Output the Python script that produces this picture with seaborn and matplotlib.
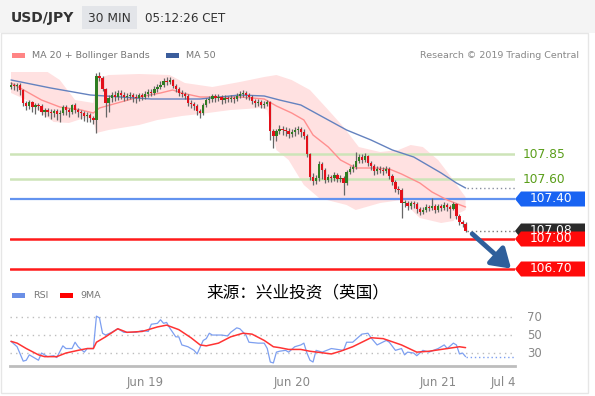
import numpy as np
import pandas as pd
import matplotlib
matplotlib.use("Agg")
import matplotlib.pyplot as plt
import matplotlib.transforms as mtransforms
from matplotlib.patches import Rectangle, Polygon
import seaborn as sns

# ---- data (30 min candles, USD/JPY) ----
first_open = 108.52
closes = [
    108.54, 108.53, 108.54, 108.49, 108.36, 108.33, 108.37, 108.32, 108.34, 108.33,
    108.27, 108.29, 108.27, 108.26, 108.28, 108.25, 108.26, 108.32, 108.29, 108.27,
    108.34, 108.29, 108.27, 108.26, 108.23, 108.24, 108.21, 108.19, 108.63, 108.61,
    108.50, 108.36, 108.41, 108.44, 108.42, 108.46, 108.44, 108.42, 108.43, 108.44,
    108.42, 108.41, 108.44, 108.42, 108.45, 108.47, 108.46, 108.50, 108.52, 108.54,
    108.58, 108.57, 108.59, 108.53, 108.50, 108.46, 108.45, 108.43, 108.36, 108.35,
    108.33, 108.28, 108.26, 108.34, 108.39, 108.40, 108.43, 108.41, 108.42, 108.39,
    108.41, 108.40, 108.41, 108.40, 108.43, 108.45, 108.46, 108.44, 108.42, 108.38,
    108.36, 108.37, 108.34, 108.35, 108.37, 108.08, 108.03, 108.08, 108.10, 108.09,
    108.08, 108.05, 108.07, 108.09, 108.10, 108.07, 108.03, 107.85, 107.62, 107.58,
    107.61, 107.75, 107.69, 107.59, 107.62, 107.61, 107.64, 107.60, 107.61, 107.56,
    107.67, 107.70, 107.72, 107.78, 107.82, 107.79, 107.83, 107.76, 107.73, 107.68,
    107.70, 107.69, 107.68, 107.70, 107.63, 107.57, 107.50, 107.49, 107.36, 107.36,
    107.33, 107.36, 107.35, 107.30, 107.27, 107.29, 107.32, 107.31, 107.33, 107.29,
    107.33, 107.31, 107.34, 107.32, 107.30, 107.35, 107.23, 107.17, 107.15, 107.08,
]
highs = [
    108.57, 108.56, 108.56, 108.56, 108.50, 108.38, 108.39, 108.38, 108.36, 108.36,
    108.35, 108.31, 108.31, 108.30, 108.30, 108.30, 108.29, 108.34, 108.34, 108.31,
    108.35, 108.36, 108.31, 108.29, 108.28, 108.27, 108.26, 108.23, 108.66, 108.67,
    108.63, 108.51, 108.44, 108.47, 108.48, 108.49, 108.49, 108.47, 108.46, 108.47,
    108.46, 108.45, 108.46, 108.46, 108.48, 108.50, 108.50, 108.53, 108.55, 108.58,
    108.61, 108.62, 108.62, 108.60, 108.55, 108.52, 108.49, 108.47, 108.45, 108.39,
    108.37, 108.35, 108.30, 108.36, 108.41, 108.43, 108.45, 108.45, 108.45, 108.44,
    108.44, 108.43, 108.44, 108.43, 108.46, 108.48, 108.49, 108.48, 108.46, 108.44,
    108.40, 108.40, 108.39, 108.38, 108.39, 108.38, 108.10, 108.10, 108.14, 108.13,
    108.12, 108.11, 108.10, 108.12, 108.13, 108.12, 108.10, 108.05, 107.86, 107.66,
    107.64, 107.78, 107.77, 107.71, 107.65, 107.64, 107.67, 107.66, 107.64, 107.63,
    107.69, 107.73, 107.75, 107.87, 107.85, 107.85, 107.86, 107.84, 107.78, 107.75,
    107.73, 107.73, 107.72, 107.73, 107.72, 107.65, 107.59, 107.53, 107.51, 107.39,
    107.38, 107.38, 107.38, 107.37, 107.32, 107.32, 107.35, 107.34, 107.41, 107.35,
    107.35, 107.35, 107.37, 107.36, 107.34, 107.37, 107.36, 107.25, 107.19, 107.17,
]
lows = [
    108.50, 108.49, 108.48, 108.44, 108.33, 108.29, 108.30, 108.27, 108.25, 108.29,
    108.24, 108.22, 108.23, 108.20, 108.22, 108.19, 108.17, 108.24, 108.24, 108.22,
    108.25, 108.26, 108.22, 108.20, 108.18, 108.17, 108.17, 108.15, 108.06, 108.58,
    108.48, 108.22, 108.27, 108.37, 108.38, 108.39, 108.40, 108.38, 108.39, 108.40,
    108.37, 108.36, 108.38, 108.39, 108.40, 108.42, 108.43, 108.44, 108.47, 108.50,
    108.52, 108.54, 108.55, 108.51, 108.47, 108.43, 108.42, 108.40, 108.33, 108.31,
    108.29, 108.24, 108.21, 108.24, 108.32, 108.36, 108.37, 108.37, 108.38, 108.35,
    108.36, 108.37, 108.37, 108.36, 108.38, 108.41, 108.42, 108.40, 108.39, 108.35,
    108.32, 108.33, 108.31, 108.31, 108.33, 107.99, 107.91, 107.98, 108.05, 108.04,
    108.03, 108.01, 108.02, 108.03, 108.05, 108.02, 108.00, 107.82, 107.59, 107.54,
    107.55, 107.58, 107.60, 107.56, 107.57, 107.57, 107.58, 107.57, 107.57, 107.44,
    107.54, 107.65, 107.67, 107.70, 107.76, 107.76, 107.77, 107.73, 107.69, 107.64,
    107.65, 107.66, 107.64, 107.66, 107.60, 107.54, 107.47, 107.45, 107.21, 107.32,
    107.29, 107.30, 107.31, 107.26, 107.24, 107.25, 107.27, 107.28, 107.29, 107.26,
    107.27, 107.28, 107.29, 107.28, 107.21, 107.29, 107.20, 107.14, 107.12, 107.07,
]

# indicators, sampled along the candle index
ma20_idx = [0, 3, 10, 16, 23, 27, 29, 36, 42, 49, 53, 56, 62, 69, 75, 83, 87, 92, 96,
            99, 104, 108, 113, 119, 124, 128, 134, 138, 143, 149]
ma20 = [108.56, 108.51, 108.39, 108.32, 108.29, 108.26, 108.31, 108.37, 108.42, 108.46,
        108.49, 108.46, 108.42, 108.42, 108.42, 108.40, 108.33, 108.26, 108.19, 108.04,
        107.92, 107.79, 107.71, 107.71, 107.70, 107.65, 107.56, 107.47, 107.39, 107.32]

bb_up_idx = [0, 12, 16, 21, 27, 28, 32, 42, 52, 57, 66, 75, 83, 87, 92, 98, 104, 109,
             114, 121, 127, 131, 135, 140, 145, 148, 149]
bb_up = [108.67, 108.67, 108.59, 108.39, 108.36, 108.60, 108.64, 108.65, 108.64, 108.56,
         108.52, 108.57, 108.62, 108.64, 108.59, 108.49, 108.29, 108.12, 107.92, 107.87,
         107.89, 107.94, 107.92, 107.79, 107.59, 107.46, 107.42]
bb_lo_idx = [0, 5, 10, 14, 19, 25, 27, 28, 32, 42, 48, 56, 62, 72, 82, 84, 87, 91, 96,
             101, 110, 113, 121, 128, 134, 141, 145, 147, 149]
bb_lo = [108.46, 108.39, 108.26, 108.17, 108.16, 108.22, 108.18, 108.06, 108.09, 108.14,
         108.19, 108.23, 108.25, 108.29, 108.31, 108.29, 107.89, 107.79, 107.54, 107.41,
         107.34, 107.29, 107.36, 107.39, 107.21, 107.16, 107.18, 107.26, 107.29]

ma50_idx = [0, 13, 26, 46, 62, 75, 83, 88, 95, 104, 110, 118, 125, 132, 141, 146, 149]
ma50 = [108.59, 108.51, 108.44, 108.40, 108.40, 108.44, 108.43, 108.39, 108.34, 108.19,
        108.09, 107.99, 107.89, 107.82, 107.66, 107.56, 107.51]

rsi_idx = [0, 2, 4, 5, 6, 7, 9, 10, 12, 14, 15, 17, 18, 20, 21, 22, 24, 25, 27, 28, 29,
           30, 31, 33, 35, 37, 39, 41, 43, 45, 46, 48, 49, 50, 51, 52, 54, 55, 56, 58,
           60, 61, 63, 64, 65, 66, 69, 71, 72, 74, 75, 77, 78, 81, 83, 84, 85, 86, 87,
           88, 90, 91, 93, 95, 96, 97, 98, 99, 100, 102, 105, 107, 109, 110, 112, 114,
           115, 117, 118, 120, 123, 124, 126, 128, 129, 130, 132, 133, 135, 137, 140,
           142, 143, 145, 146, 147, 148, 149]
rsi = [43, 37, 21, 22, 28, 26, 22, 30, 26, 27, 25, 38, 35, 35, 42, 37, 31, 35, 35, 71, 69,
       52, 50, 53, 57, 53, 53, 53, 55, 54, 62, 63, 67, 63, 64, 58, 48, 48, 39, 37,
       33, 29, 44, 46, 52, 50, 50, 49, 53, 58, 57, 50, 42, 41, 41, 35, 20, 19, 31,
       32, 33, 31, 37, 39, 41, 30, 22, 20, 33, 31, 35, 34, 33, 42, 42, 48,
       51, 52, 47, 39, 44, 42, 33, 35, 28, 31, 30, 27, 33, 31, 35,
       39, 35, 41, 39, 29, 30, 26]

ma9_idx = [0, 2, 5, 9, 11, 15, 18, 22, 25, 27, 28, 31, 35, 38, 43, 48, 51, 55, 59, 62, 64,
           68, 72, 76, 79, 83, 86, 88, 91, 95, 98, 105, 108, 112, 118, 122, 128, 133, 137,
           143, 147, 149]
ma9 = [43, 41, 35, 28, 26, 26, 30, 33, 35, 35, 42, 48, 57, 53, 54, 59, 61, 56, 47, 39, 38,
       41, 48, 52, 51, 44, 37, 36, 34, 34, 32, 29, 32, 37, 47, 46, 39, 31, 32,
       35, 37, 36]

levels_green = [107.85, 107.60]
level_blue = 107.40
levels_red = [107.00, 106.70]
last_price = 107.08

tick_pos = [43.9, 92.1, 140.0, 161.5]
tick_labels = ["Jun 19", "Jun 20", "Jun 21", "Jul 4"]
rsi_levels = [70, 50, 30]

# ---- figure ----
sns.set_style("white")
plt.rcParams['font.family'] = ['DejaVu Sans', 'Noto Sans CJK SC']

W, H = 595, 396
fig = plt.figure(figsize=(W / 100, H / 100), dpi=100)
fig.patch.set_facecolor("white")

def fx(px):
    return px / W

def fy(py):
    return 1 - py / H

XMIN, XMAX = -0.33, 165.2

n = len(closes)
opens = [first_open] + closes[:-1]
df = pd.DataFrame({"i": np.arange(n), "open": opens, "close": closes,
                   "high": highs, "low": lows})
df["up"] = df["close"] >= df["open"]

# header band
fig.patches.append(Rectangle((0, fy(33)), 1, 33 / H, transform=fig.transFigure,
                             facecolor="#f4f4f4", edgecolor="none", zorder=0))
fig.patches.append(Rectangle((fx(82), fy(29)), 55 / W, 23 / H, transform=fig.transFigure,
                             facecolor="#e3e5e9", edgecolor="none", zorder=1))
fig.patches.append(Rectangle((fx(1), fy(393)), 587 / W, 360 / H, transform=fig.transFigure,
                             facecolor="none", edgecolor="#e6e6e6", lw=1, zorder=0))
fig.text(fx(11), fy(18), "USD/JPY", fontsize=10, fontweight="bold", color="#333333", va="center")
fig.text(fx(109.5), fy(18), "30 MIN", fontsize=8.8, color="#333333", va="center", ha="center")
fig.text(fx(145), fy(18), "05:12:26 CET", fontsize=8.6, color="#333333", va="center")

# legend row
fig.patches.append(Rectangle((fx(12), fy(58)), 13 / W, 5 / H, transform=fig.transFigure,
                             facecolor="#ff8585", edgecolor="none"))
fig.text(fx(32), fy(56), "MA 20 + Bollinger Bands", fontsize=6.8, color="#777777", va="center")
fig.patches.append(Rectangle((fx(166), fy(58)), 13 / W, 5 / H, transform=fig.transFigure,
                             facecolor="#3b5d9c", edgecolor="none"))
fig.text(fx(186), fy(56), "MA 50", fontsize=6.8, color="#777777", va="center")
fig.text(fx(579), fy(56), "Research \u00a9 2019 Trading Central", fontsize=6.8,
         color="#888888", va="center", ha="right")

# ---- price panel ----
ax = fig.add_axes([fx(10), fy(278), 505 / W, 208 / H])
ax.set_xlim(XMIN, XMAX)
ax.set_ylim(106.61, 108.69)
ax.axis("off")

ax.fill(np.r_[bb_up_idx, bb_lo_idx[::-1]], np.r_[bb_up, bb_lo[::-1]],
        color="#ffdcdc", alpha=0.85, lw=0, zorder=1)

for v in levels_green:
    ax.axhline(v, color="#cde4b8", lw=1.8, zorder=2)
ax.axhline(level_blue, color="#6393ef", lw=1.6, zorder=2)
for v in levels_red:
    ax.axhline(v, color="#ff1a1a", lw=1.8, zorder=2)

sns.lineplot(x=ma20_idx, y=ma20, ax=ax, color="#ff8f8f", lw=1.0, zorder=3)
sns.lineplot(x=ma50_idx, y=ma50, ax=ax, color="#6482bf", lw=1.0, zorder=3)

# candles
ax.vlines(df["i"], df["low"], df["high"], color="#666666", lw=0.9, zorder=4)
body_lo = df[["open", "close"]].min(axis=1)
body_h = (df["close"] - df["open"]).abs().clip(lower=0.012)
colors = np.where(df["up"], "#2f7d22", "#e3101a")
ax.bar(df["i"], body_h, bottom=body_lo, width=0.75, color=colors, lw=0, zorder=5)

# dotted extensions to the right edge
ax.hlines(ma50[-1], ma50_idx[-1] + 0.5, XMAX, colors="#8a8fa0", linestyles=(0, (1, 2)), lw=1, zorder=3)
ax.hlines(last_price, n - 0.5, XMAX, colors="#777777", linestyles=(0, (1, 2)), lw=1, zorder=3)

# forecast arrow
ax.annotate("", xy=(164.6, 106.685), xytext=(150.5, 107.07),
            arrowprops=dict(arrowstyle="-|>,head_length=0.7,head_width=0.45",
                            color="#2f5f9b", lw=3.5, mutation_scale=16),
            annotation_clip=False, zorder=6)

# right-hand labels
trans = mtransforms.blended_transform_factory(fig.transFigure, ax.transData)

def tag(y, text, face, half=0.075, text_dy=0.0):
    pts = [(fx(515), y), (fx(521), y + half), (fx(585), y + half),
           (fx(585), y - half), (fx(521), y - half)]
    poly = Polygon(pts, closed=True, transform=trans, facecolor=face,
                   edgecolor="none", clip_on=False, zorder=7)
    ax.add_artist(poly)
    ax.text(fx(551), y + text_dy, text, transform=trans, color="white", fontsize=8.8,
            ha="center", va="center", clip_on=False, zorder=7.5)

for v in levels_green:
    ax.text(fx(523), v, f"{v:.2f}", transform=trans, color="#5a9e1a", fontsize=8.8,
            va="center", clip_on=False)
tag(level_blue, f"{level_blue:.2f}", "#1863f2")
tag(last_price, f"{last_price:.2f}", "#2b2b2b", text_dy=0.01)
tag(levels_red[0], f"{levels_red[0]:.2f}", "#ff0a0a")
tag(levels_red[1], f"{levels_red[1]:.2f}", "#ff0a0a")
# red tags sit on top of the dark last-price tag
for a in ax.artists[-2:]:
    a.set_zorder(8)
for t in ax.texts[-2:]:
    t.set_zorder(9)

# source line and RSI legend
fig.text(fx(298), fy(293), "来源：兴业投资（英国）", fontsize=12, color="black",
         ha="center", va="center", family=["Noto Sans CJK SC", "DejaVu Sans"])
fig.patches.append(Rectangle((fx(12), fy(298)), 13 / W, 5 / H, transform=fig.transFigure,
                             facecolor="#6b8fe6", edgecolor="none"))
fig.text(fx(33), fy(296), "RSI", fontsize=6.8, color="#777777", va="center")
fig.patches.append(Rectangle((fx(60), fy(298)), 13 / W, 5 / H, transform=fig.transFigure,
                             facecolor="#ff0000", edgecolor="none"))
fig.text(fx(80), fy(296), "9MA", fontsize=6.8, color="#777777", va="center")

# ---- RSI panel ----
rax = fig.add_axes([fx(10), fy(366), 505 / W, 63 / H])
rax.set_xlim(XMIN, XMAX)
rax.set_ylim(15.6, 85.6)
rtrans = mtransforms.blended_transform_factory(fig.transFigure, rax.transData)
for v in rsi_levels:
    rax.axhline(v, color="#bdbdbd", ls=(0, (1, 3)), lw=1, zorder=1)
    rax.text(fx(527), v, str(v), transform=rtrans, color="#888888", fontsize=8.5,
             va="center", clip_on=False)
sns.lineplot(x=rsi_idx, y=rsi, ax=rax, color="#7d9ff0", lw=0.9, zorder=3)
sns.lineplot(x=ma9_idx, y=ma9, ax=rax, color="#ff3333", lw=1.1, zorder=4)
rax.hlines(rsi[-1], rsi_idx[-1], XMAX, colors="#7d9ff0", linestyles=(0, (1, 2)), lw=1)

for s in ["top", "right", "left"]:
    rax.spines[s].set_visible(False)
rax.spines["bottom"].set_color("#bdbdbd")
rax.spines["bottom"].set_linewidth(2)
rax.set_yticks([])
rax.set_xticks(tick_pos, tick_labels)
rax.set_xticks([XMIN, XMAX], minor=True)
rax.tick_params(axis="x", which="major", length=0, pad=7, labelsize=8.5, labelcolor="#888888")
rax.tick_params(axis="x", which="minor", length=5, width=1.5, color="#bdbdbd")
rax.set_xlabel("")
rax.set_ylabel("")
rax.set_facecolor("none")

fig.savefig("out.png", dpi=100)
